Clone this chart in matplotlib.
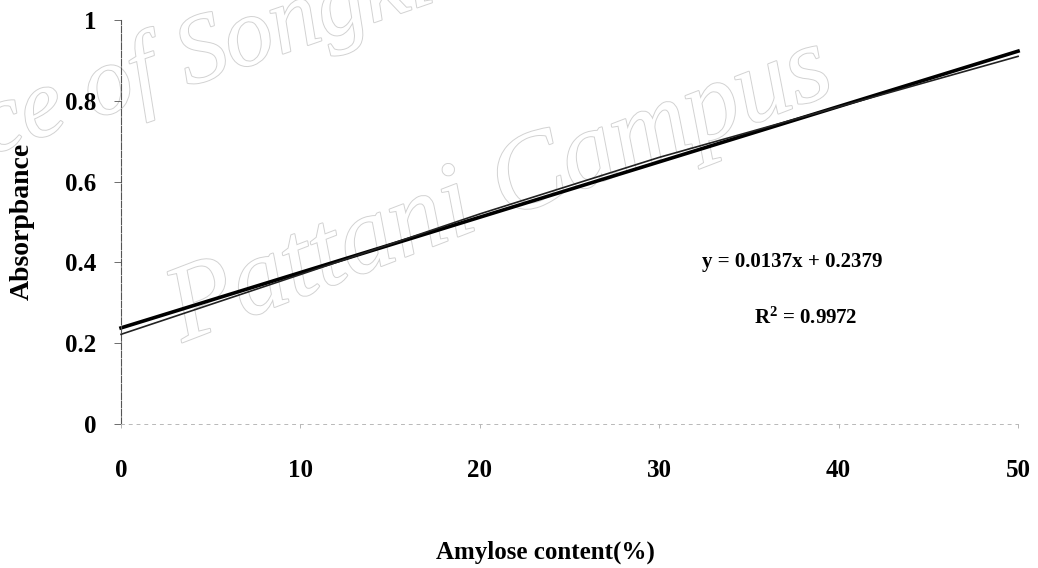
import matplotlib.pyplot as plt
import matplotlib.patheffects as pe
import numpy as np

# amylose standard curve: measured absorbance at each amylose content
amylose = [0, 10, 20, 30, 40, 50]
absorbance = [0.222, 0.370, 0.520, 0.660, 0.785, 0.910]

# linear trendline from the regression
slope = 0.0137
intercept = 0.2379
r2 = 0.9972

xticks = [0, 10, 20, 30, 40, 50]
yticks = [0, 0.2, 0.4, 0.6, 0.8, 1]
ytick_labels = ['0', '0.2', '0.4', '0.6', '0.8', '1']

plt.rcParams['font.family'] = ['Liberation Serif', 'DejaVu Serif']
plt.rcParams['font.weight'] = 'bold'
plt.rcParams['mathtext.default'] = 'regular'

fig = plt.figure(figsize=(10.38, 5.68), dpi=100)
ax = fig.add_axes([0.1166, 0.2535, 0.8642, 0.7113])

# faint outline watermark behind the plot
wm = dict(style='italic', weight='normal', color='white', zorder=-1,
          path_effects=[pe.withStroke(linewidth=1.4, foreground='#d2d2d2')])
fig.text(-0.19, 0.63, 'Prince of Songkla University', rotation=19,
         fontsize=70, **wm)
fig.text(0.15, 0.40, 'Pattani Campus', rotation=21, fontsize=78, **wm)

# data line and trendline
ax.plot(amylose, absorbance, color='#222222', lw=1.2, clip_on=False, zorder=3)
xfit = np.array([amylose[0], amylose[-1]])
ax.plot(xfit, slope * xfit + intercept, color='black', lw=2.6,
        clip_on=False, zorder=2)

ax.set_xlim(0, 50)
ax.set_ylim(0, 1)
ax.set_xticks(xticks)
ax.set_yticks(yticks)
ax.set_yticklabels(ytick_labels)
ax.tick_params(axis='y', labelsize=18, length=5, width=0.6, pad=13,
               color='#555555')
ax.tick_params(axis='x', labelsize=18, length=3, width=0.6, pad=22,
               color='#aaaaaa')

ax.patch.set_alpha(0)
for side in ['top', 'right']:
    ax.spines[side].set_visible(False)
ax.spines['left'].set_color('#555555')
ax.spines['left'].set_linewidth(0.8)
ax.spines['left'].set_linestyle((0, (6, 1.5)))
ax.spines['bottom'].set_color('#b8b8b8')
ax.spines['bottom'].set_linewidth(0.7)
ax.spines['bottom'].set_linestyle((0, (3, 5)))

ax.text(0.748, 0.40, f'y = {slope}x + {intercept}', transform=ax.transAxes,
        fontsize=15, ha='center', va='center')
ax.text(0.763, 0.262, f'R$^{{2}}$ = {r2}', transform=ax.transAxes,
        fontsize=15, ha='center', va='center')

fig.text(0.525, 0.027, 'Amylose content(%)', fontsize=18, ha='center',
         va='center')
fig.text(0.021, 0.61, 'Absorpbance', fontsize=20, rotation=90,
         ha='center', va='center')

fig.savefig('out.png', dpi=100)
